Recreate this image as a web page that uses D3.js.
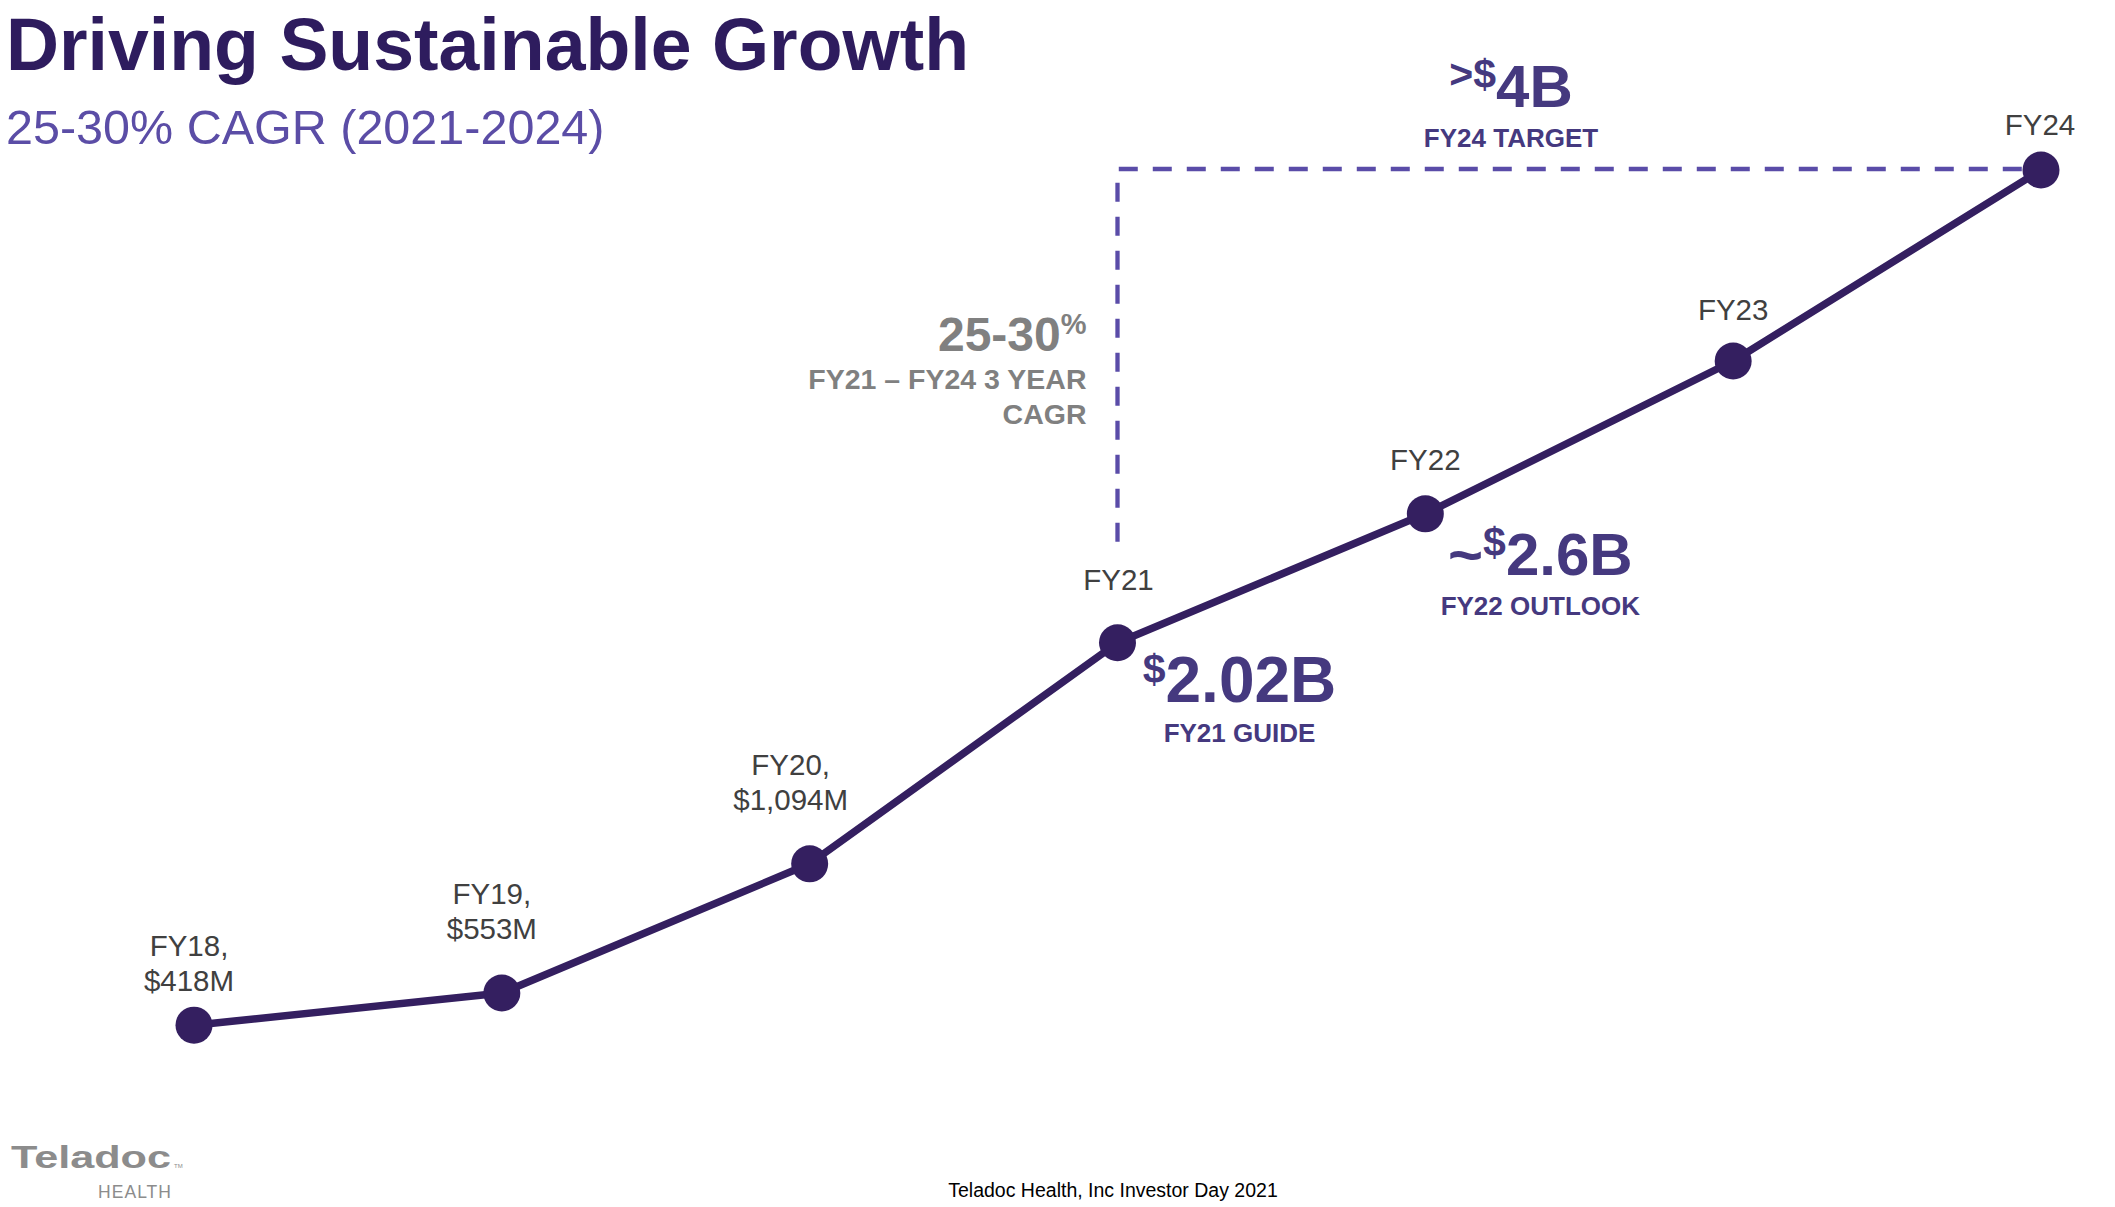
<!DOCTYPE html>
<html>
<head>
<meta charset="utf-8">
<script src="https://cdn.jsdelivr.net/npm/d3@7"></script>
<style>
  html, body { margin: 0; padding: 0; background: #ffffff; }
  svg { display: block; }
  text { font-family: "Liberation Sans", Arial, Helvetica, sans-serif; }
</style>
</head>
<body>
<svg id="chart" width="2115" height="1207"></svg>
<script>
// ---------- data ----------
const categories = ["FY18", "FY19", "FY20", "FY21", "FY22", "FY23", "FY24"];
const revenueM   = [418, 553, 1094, 2020, 2560, 3200, 4000];
const labelLine1 = ["FY18,", "FY19,", "FY20,", "FY21", "FY22", "FY23", "FY24"];
const labelLine2 = ["$418M", "$553M", "$1,094M", "", "", "", ""];

const calloutCats     = ["FY21", "FY22", "FY24"];
const calloutPrefix   = ["", "~", ""];
const calloutSup      = ["$", "$", ">$"];
const calloutBig      = ["2.02B", "2.6B", "4B"];
const calloutCaption  = ["FY21 GUIDE", "FY22 OUTLOOK", "FY24 TARGET"];

const cagrTitle = "25-30";
const cagrSup = "%";
const cagrLines = ["FY21 \u2013 FY24 3 YEAR", "CAGR"];

const titleText = "Driving Sustainable Growth";
const subtitleText = "25-30% CAGR (2021-2024)";
const footerText = "Teladoc Health, Inc Investor Day 2021";

// ---------- layout / style ----------
const lineColor = "#341f60";
const calloutColor = "#45397f";
const dashColor = "#5a4ca8";
const labelColor = "#404040";
const grayColor = "#808080";

// label offsets relative to the point (dx, dy of last line baseline)
const labelOffsets = [[-5, -34], [-10, -54], [-19, -54], [1, -53], [0, -44], [0, -41], [-1, -35]];
// callout offsets: [dx of center, dy of big baseline, big font size]
const calloutLayout = [[122, 59, 64], [115, 61, 60], [-530, -63, 60]];

const svg = d3.select("#chart");

const data = categories.map((c, i) => ({ cat: c, v: revenueM[i], l1: labelLine1[i], l2: labelLine2[i], off: labelOffsets[i] }));

const x = d3.scalePoint().domain(categories).range([194, 2041]).padding(0);
const y = d3.scaleLinear().domain([0, 4000]).range([1125, 170]);

// ---------- title ----------
svg.append("text")
  .attr("x", 6).attr("y", 70)
  .attr("font-size", 74).attr("font-weight", "bold")
  .attr("fill", "#2e1c5e")
  .attr("textLength", 963).attr("lengthAdjust", "spacingAndGlyphs")
  .text(titleText);

svg.append("text")
  .attr("x", 6).attr("y", 144)
  .attr("font-size", 48.5)
  .attr("fill", "#5b4da6")
  .text(subtitleText);

// ---------- dashed elbow (FY21 -> FY24 target) ----------
const x21 = x("FY21"), x24 = x("FY24");
const y21 = y(revenueM[categories.indexOf("FY21")]);
const y24 = y(revenueM[categories.indexOf("FY24")]);
svg.append("path")
  .attr("d", d3.line()([[x21, y21 - 101], [x21, y24 - 1], [x24 - 10, y24 - 1]]))
  .attr("fill", "none")
  .attr("stroke", dashColor)
  .attr("stroke-width", 4.3)
  .attr("stroke-dasharray", "19,15");

// ---------- line and dots ----------
svg.append("path")
  .datum(data)
  .attr("d", d3.line().x(d => x(d.cat)).y(d => y(d.v)))
  .attr("fill", "none")
  .attr("stroke", lineColor)
  .attr("stroke-width", 7.5)
  .attr("stroke-linejoin", "round");

svg.selectAll("circle.pt")
  .data(data).enter().append("circle")
  .attr("class", "pt")
  .attr("cx", d => x(d.cat)).attr("cy", d => y(d.v))
  .attr("r", 18.5)
  .attr("fill", lineColor);

// ---------- point labels ----------
const lab = svg.selectAll("text.lab")
  .data(data).enter().append("text")
  .attr("class", "lab")
  .attr("text-anchor", "middle")
  .attr("font-size", 29.5)
  .attr("fill", labelColor);

lab.each(function(d) {
  const t = d3.select(this);
  const cx = x(d.cat) + d.off[0];
  const base = y(d.v) + d.off[1];
  if (d.l2) {
    t.append("tspan").attr("x", cx).attr("y", base - 35).text(d.l1);
    t.append("tspan").attr("x", cx).attr("y", base).text(d.l2);
  } else {
    t.append("tspan").attr("x", cx).attr("y", base).text(d.l1);
  }
});

// ---------- callouts ----------
calloutCats.forEach((c, i) => {
  const idx = categories.indexOf(c);
  const [dx, dy, fs] = calloutLayout[i];
  const cx = x(c) + dx;
  const by = y(revenueM[idx]) + dy;
  const t = svg.append("text")
    .attr("x", cx).attr("y", by)
    .attr("text-anchor", "middle")
    .attr("font-weight", "bold")
    .attr("fill", calloutColor);
  if (calloutPrefix[i]) t.append("tspan").attr("font-size", fs).text(calloutPrefix[i]);
  t.append("tspan").attr("font-size", 41).attr("dy", -19).text(calloutSup[i]);
  t.append("tspan").attr("font-size", fs).attr("dy", 19).text(calloutBig[i]);

  svg.append("text")
    .attr("x", cx).attr("y", by + 40)
    .attr("text-anchor", "middle")
    .attr("font-weight", "bold")
    .attr("font-size", 26)
    .attr("fill", calloutColor)
    .text(calloutCaption[i]);
});

// ---------- CAGR annotation ----------
const cagrX = x21 - 31;
const cg = svg.append("text")
  .attr("x", cagrX).attr("y", 351)
  .attr("text-anchor", "end")
  .attr("font-weight", "bold")
  .attr("fill", grayColor);
cg.append("tspan").attr("font-size", 48).text(cagrTitle);
cg.append("tspan").attr("font-size", 29).attr("dy", -17).text(cagrSup);

cagrLines.forEach((s, i) => {
  svg.append("text")
    .attr("x", cagrX).attr("y", 389 + i * 35)
    .attr("text-anchor", "end")
    .attr("font-weight", "bold")
    .attr("font-size", 28.5)
    .attr("fill", grayColor)
    .text(s);
});

// ---------- footer / logo ----------
svg.append("text")
  .attr("x", 11).attr("y", 1168)
  .attr("font-family", "'DejaVu Sans', sans-serif")
  .attr("font-size", 32).attr("font-weight", "bold")
  .attr("fill", "#8c8c8c")
  .attr("textLength", 160).attr("lengthAdjust", "spacingAndGlyphs")
  .text("Teladoc");
svg.append("text")
  .attr("x", 174).attr("y", 1168)
  .attr("font-size", 6).attr("fill", "#8c8c8c")
  .text("TM");
svg.append("text")
  .attr("x", 98).attr("y", 1198)
  .attr("font-size", 17.5).attr("fill", "#8c8c8c")
  .attr("textLength", 73).attr("lengthAdjust", "spacing")
  .text("HEALTH");

svg.append("text")
  .attr("x", 1113).attr("y", 1197)
  .attr("text-anchor", "middle")
  .attr("font-size", 19.5).attr("fill", "#000000")
  .text(footerText);
</script>
</body>
</html>
